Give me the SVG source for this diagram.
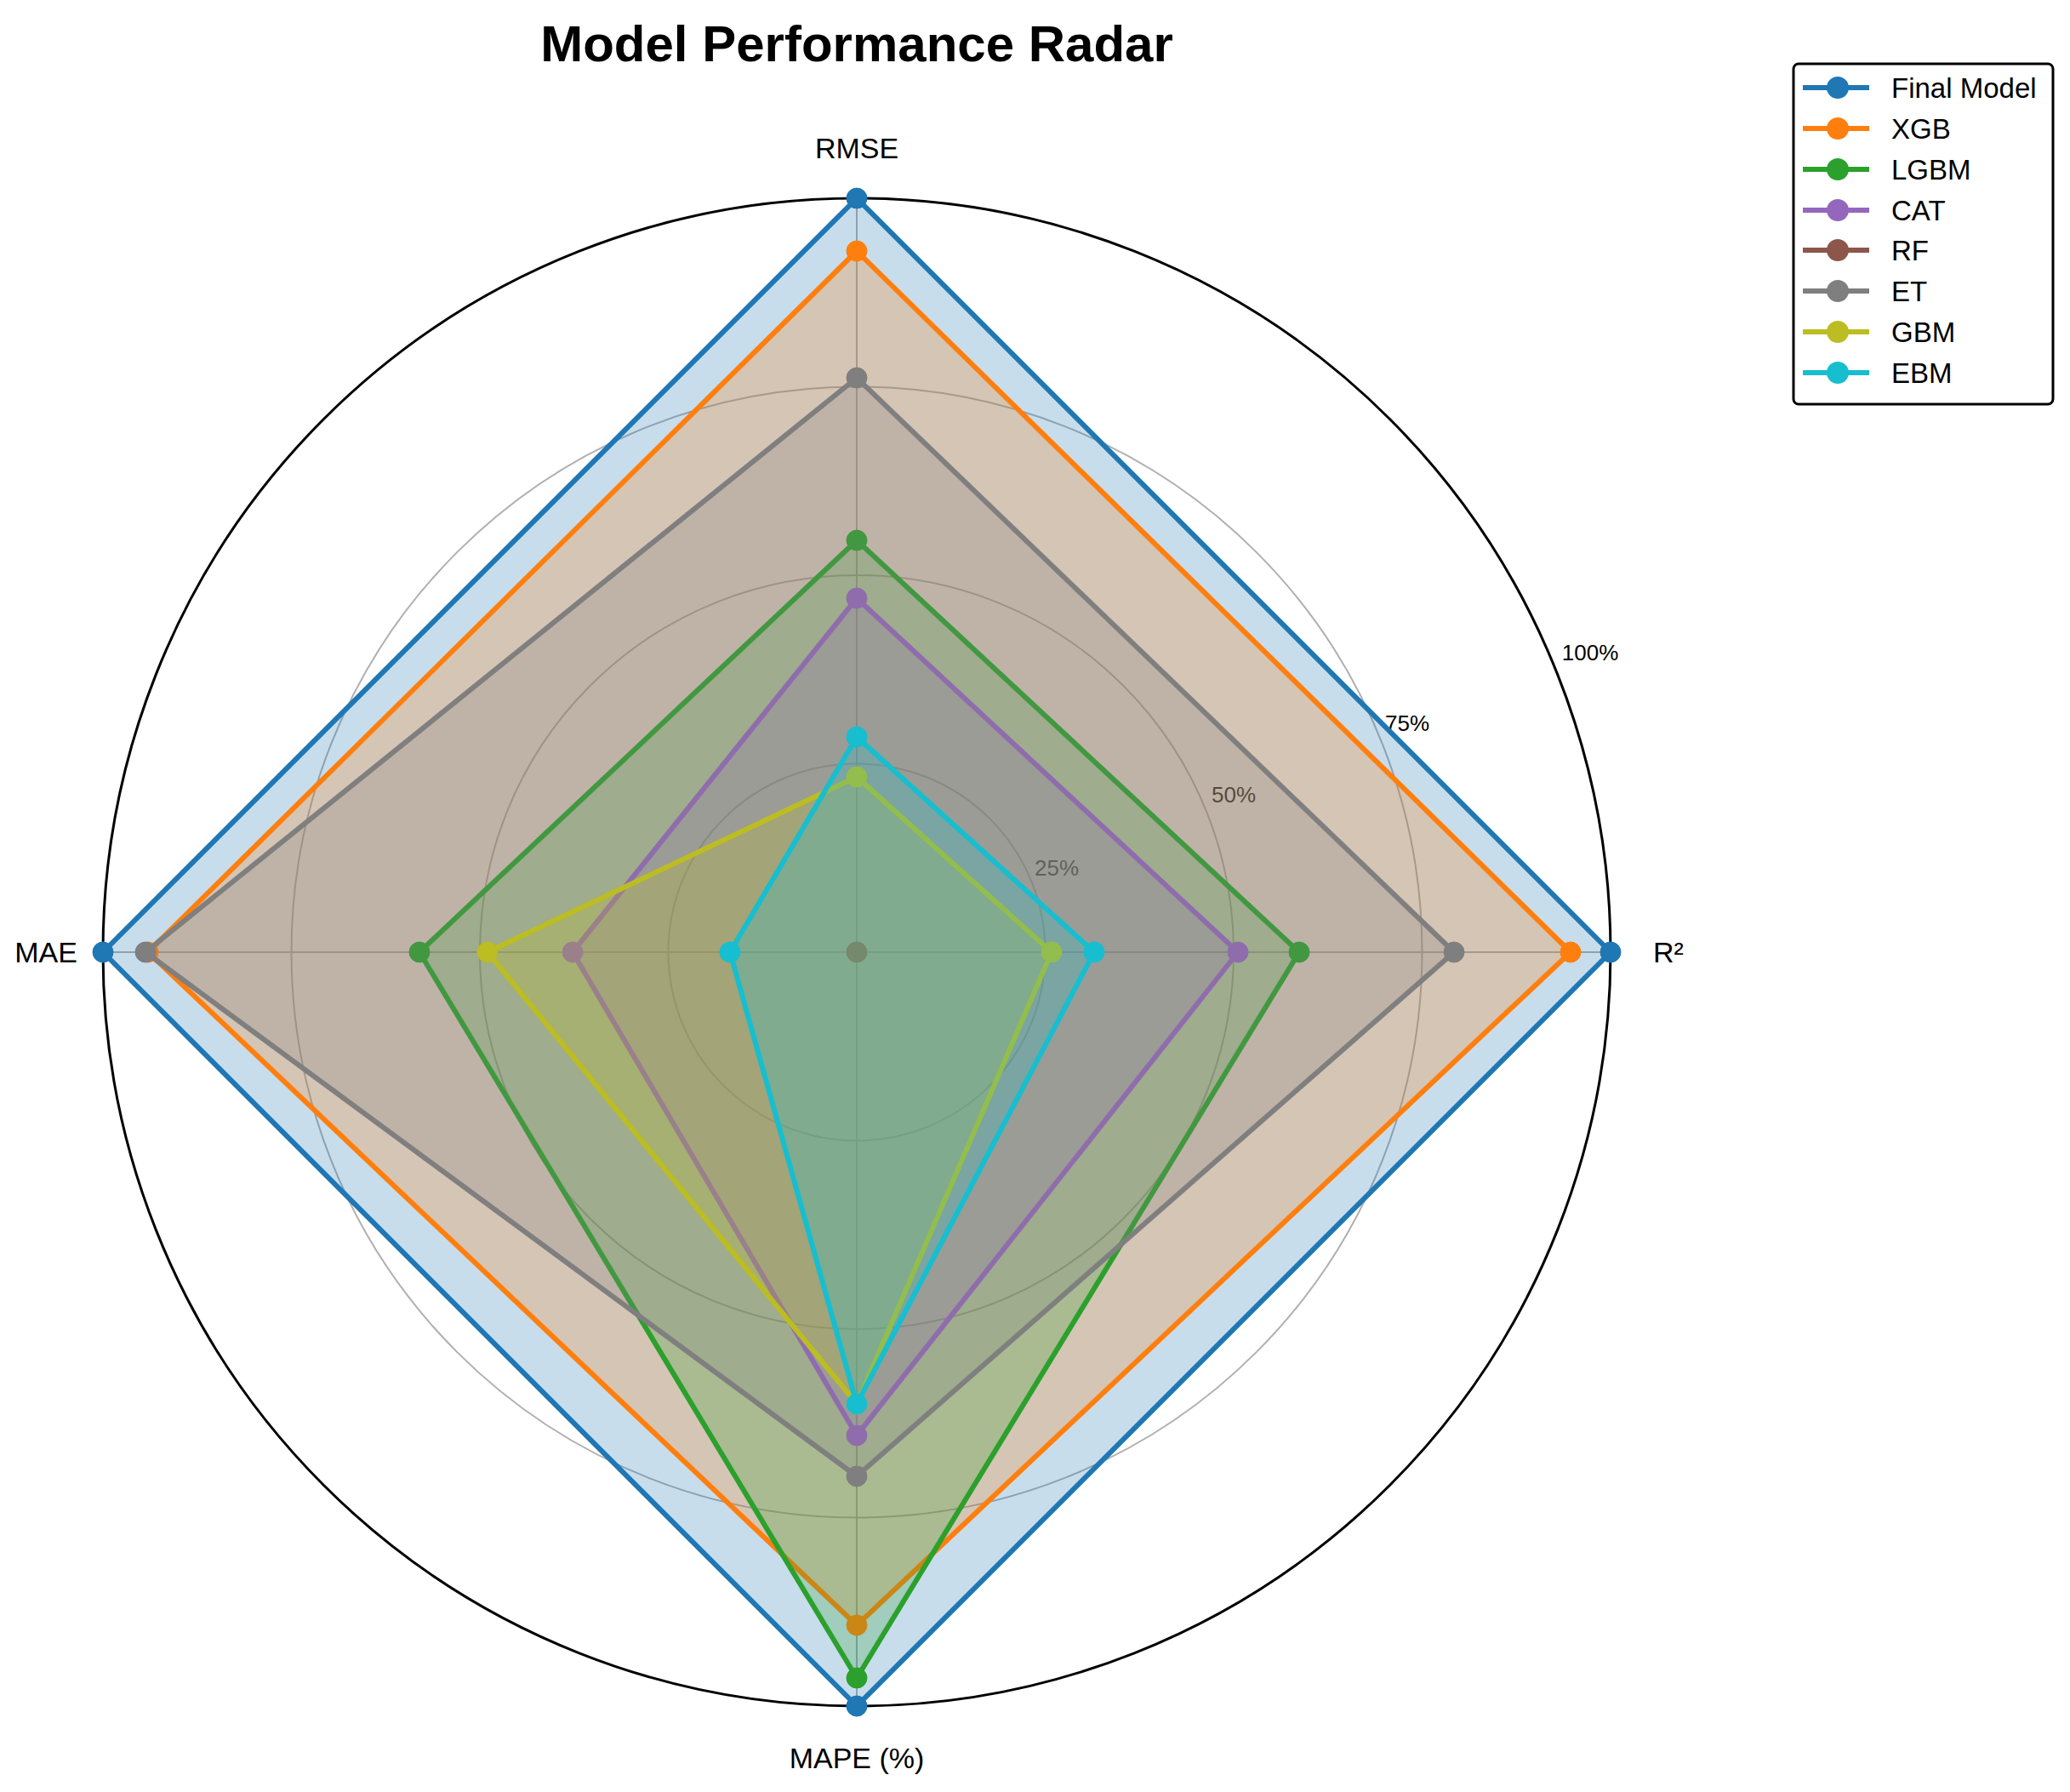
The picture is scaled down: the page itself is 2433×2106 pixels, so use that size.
<svg xmlns="http://www.w3.org/2000/svg" width="2433" height="2106" viewBox="0 0 2433 2106">
<style>
text{font-family:"Liberation Sans",Arial,sans-serif;fill:#000}
.grid{fill:none;stroke:#b0b0b0;stroke-width:2}
.s{stroke-width:6;stroke-linejoin:round;fill-opacity:0.25}
.ax{font-size:34px;text-anchor:middle;dominant-baseline:central}
.tk{font-size:26px;text-anchor:middle;dominant-baseline:central}
.lg{font-size:33px;dominant-baseline:central}
</style>
<rect width="2433" height="2106" fill="#fff"/>
<text x="1007" y="51" font-size="60" font-weight="bold" text-anchor="middle" dominant-baseline="central">Model Performance Radar</text>
<g id="grid">
<circle class="grid" cx="1007" cy="1119" r="221.5"/>
<circle class="grid" cx="1007" cy="1119" r="443"/>
<circle class="grid" cx="1007" cy="1119" r="664.5"/>
<path class="grid" d="M1007 233V2005M121 1119H1893"/>
<circle cx="1007" cy="1119" r="886" fill="none" stroke="#000" stroke-width="3"/>
<text class="tk" x="1242" y="1020">25%</text>
<text class="tk" x="1450" y="934">50%</text>
<text class="tk" x="1654" y="850">75%</text>
<text class="tk" x="1869" y="767">100%</text>
<text class="ax" x="1007" y="174">RMSE</text>
<text class="ax" x="1961" y="1119">R²</text>
<text class="ax" x="1007" y="2066">MAPE (%)</text>
<text class="ax" x="54" y="1119">MAE</text>
</g>
<g id="series">
<g id="final" fill="#1f77b4" stroke="#1f77b4"><polygon class="s" points="1007,233 1893,1119 1007,2005 121,1119"/><circle cx="1007" cy="233" r="12"/><circle cx="1893" cy="1119" r="12"/><circle cx="1007" cy="2005" r="12"/><circle cx="121" cy="1119" r="12"/></g>
<g id="xgb" fill="#ff7f0e" stroke="#ff7f0e"><polygon class="s" points="1007,295 1846,1119 1007,1910 174,1119"/><circle cx="1007" cy="295" r="12"/><circle cx="1846" cy="1119" r="12"/><circle cx="1007" cy="1910" r="12"/><circle cx="174" cy="1119" r="12"/></g>
<g id="lgbm" fill="#2ca02c" stroke="#2ca02c"><polygon class="s" points="1007,635 1527,1119 1007,1972 493,1119"/><circle cx="1007" cy="635" r="12"/><circle cx="1527" cy="1119" r="12"/><circle cx="1007" cy="1972" r="12"/><circle cx="493" cy="1119" r="12"/></g>
<g id="cat" fill="#9467bd" stroke="#9467bd"><polygon class="s" points="1007,703 1455,1119 1007,1687 673,1119"/><circle cx="1007" cy="703" r="12"/><circle cx="1455" cy="1119" r="12"/><circle cx="1007" cy="1687" r="12"/><circle cx="673" cy="1119" r="12"/></g>
<g id="rf" fill="#8c564b" stroke="#8c564b"><circle cx="1007" cy="1119" r="12"/></g>
<g id="et" fill="#7f7f7f" stroke="#7f7f7f"><polygon class="s" points="1007,444 1709,1119 1007,1735 171,1119"/><circle cx="1007" cy="444" r="12"/><circle cx="1709" cy="1119" r="12"/><circle cx="1007" cy="1735" r="12"/><circle cx="171" cy="1119" r="12"/></g>
<g id="gbm" fill="#bcbd22" stroke="#bcbd22"><polygon class="s" points="1007,913 1236,1119 1007,1650 573,1119"/><circle cx="1007" cy="913" r="12"/><circle cx="1236" cy="1119" r="12"/><circle cx="1007" cy="1650" r="12"/><circle cx="573" cy="1119" r="12"/></g>
<g id="ebm" fill="#17becf" stroke="#17becf"><polygon class="s" points="1007,866 1286,1119 1007,1650 858,1119"/><circle cx="1007" cy="866" r="12"/><circle cx="1286" cy="1119" r="12"/><circle cx="1007" cy="1650" r="12"/><circle cx="858" cy="1119" r="12"/></g>
</g>
<g id="legend">
<rect x="2108" y="75" width="305" height="400" rx="6" fill="#fff" stroke="#000" stroke-width="3"/>
<g stroke-width="6">
<line x1="2119" y1="103" x2="2197" y2="103" stroke="#1f77b4"/><circle cx="2160" cy="103" r="13" fill="#1f77b4" stroke="none"/><text class="lg" x="2223" y="103">Final Model</text>
<line x1="2119" y1="151" x2="2197" y2="151" stroke="#ff7f0e"/><circle cx="2160" cy="151" r="13" fill="#ff7f0e" stroke="none"/><text class="lg" x="2223" y="151">XGB</text>
<line x1="2119" y1="199" x2="2197" y2="199" stroke="#2ca02c"/><circle cx="2160" cy="199" r="13" fill="#2ca02c" stroke="none"/><text class="lg" x="2223" y="199">LGBM</text>
<line x1="2119" y1="247" x2="2197" y2="247" stroke="#9467bd"/><circle cx="2160" cy="247" r="13" fill="#9467bd" stroke="none"/><text class="lg" x="2223" y="247">CAT</text>
<line x1="2119" y1="294" x2="2197" y2="294" stroke="#8c564b"/><circle cx="2160" cy="294" r="13" fill="#8c564b" stroke="none"/><text class="lg" x="2223" y="294">RF</text>
<line x1="2119" y1="342" x2="2197" y2="342" stroke="#7f7f7f"/><circle cx="2160" cy="342" r="13" fill="#7f7f7f" stroke="none"/><text class="lg" x="2223" y="342">ET</text>
<line x1="2119" y1="390" x2="2197" y2="390" stroke="#bcbd22"/><circle cx="2160" cy="390" r="13" fill="#bcbd22" stroke="none"/><text class="lg" x="2223" y="390">GBM</text>
<line x1="2119" y1="438" x2="2197" y2="438" stroke="#17becf"/><circle cx="2160" cy="438" r="13" fill="#17becf" stroke="none"/><text class="lg" x="2223" y="438">EBM</text>
</g>
</g>
</svg>
